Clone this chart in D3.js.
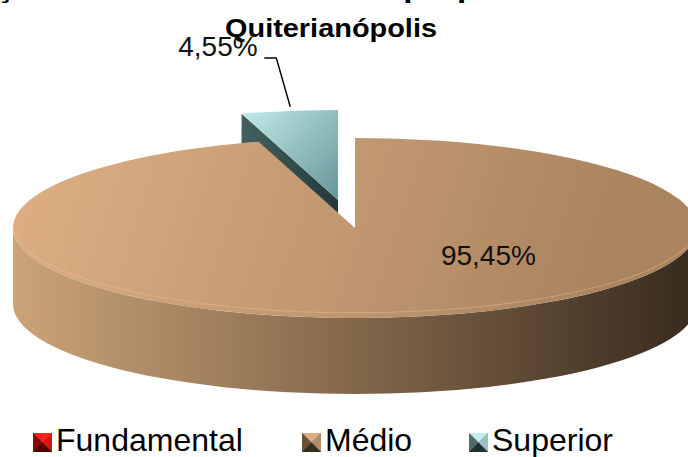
<!DOCTYPE html>
<html><head><meta charset="utf-8">
<script src="https://cdn.jsdelivr.net/npm/d3@7"></script>
<style>
html,body{margin:0;padding:0;background:#fff;overflow:hidden}
svg{display:block}
text{font-family:"Liberation Sans",Arial,sans-serif}
</style></head>
<body>
<svg id="c" width="688" height="457"></svg>
<script>
// ---- data ----
const categories = ["Fundamental", "Médio", "Superior"];
const values = [0, 95.45, 4.55];
const titleLines = ["Formações docentes do ensino proposto nas escolas de", "Quiterianópolis"];

// ---- layout / style ----
const W = 688, H = 457;
const cx = 355, cy = 228, rx = 342, ry = 90, depth = 76;
const explode = [{dx:0,dy:0},{dx:0,dy:0},{dx:-17,dy:-28}];
const topColors = [["#ff2020","#7a0000"],["#dcad83","#a9845f"],["#c4ecec","#5a8a8c"]];
const wallColors = [["#900000","#500000"],["#cba478","#372a1e"],["#42605f","#203234"]];

const svg = d3.select("#c");
const defs = svg.append("defs");

const pie = d3.pie().sort(null).value(d => d).startAngle(0).endAngle(2*Math.PI);
const arcs = pie(values);

function P(a, off, z) {
  return [cx + off.dx + rx*Math.sin(a), cy + off.dy - ry*Math.cos(a) + (z||0)];
}

// gradients
categories.forEach((c, i) => {
  const g = defs.append("linearGradient").attr("id","top"+i)
    .attr("gradientUnits","userSpaceOnUse");
  if (i === 2) {
    g.attr("x1",cx-110).attr("y1",cy-125).attr("x2",cx).attr("y2",cy-20);
  } else {
    g.attr("x1",cx-rx*0.9).attr("y1",cy-ry).attr("x2",cx+rx*0.7).attr("y2",cy+ry);
  }
  g.append("stop").attr("offset","0%").attr("stop-color",topColors[i][0]);
  g.append("stop").attr("offset","100%").attr("stop-color",topColors[i][1]);
  const w = defs.append("linearGradient").attr("id","wall"+i)
    .attr("gradientUnits","userSpaceOnUse");
  if (i === 2) {
    w.attr("x1",cx-110).attr("y1",0).attr("x2",cx).attr("y2",0);
  } else {
    w.attr("x1",cx-rx).attr("y1",0).attr("x2",cx+rx).attr("y2",0);
  }
  w.append("stop").attr("offset","0%").attr("stop-color",wallColors[i][0]);
  if (i === 1) w.append("stop").attr("offset","45%").attr("stop-color","#8a6d4f");
  w.append("stop").attr("offset","100%").attr("stop-color",wallColors[i][1]);
});

// title
svg.append("text").attr("x",344).attr("y",-2).attr("text-anchor","middle")
  .attr("font-weight","bold").attr("font-size",26)
  .attr("textLength",900).attr("lengthAdjust","spacingAndGlyphs")
  .text(titleLines[0]);
svg.append("text").attr("x",331).attr("y",37).attr("text-anchor","middle")
  .attr("font-weight","bold").attr("font-size",26)
  .attr("textLength",212).attr("lengthAdjust","spacingAndGlyphs")
  .text(titleLines[1]);

const g = svg.append("g");

// draw back slices first (Superior), then Médio
const order = [2, 0, 1];
order.forEach(i => {
  const d = arcs[i];
  if (d.endAngle - d.startAngle <= 0) return;
  const off = explode[i];
  const a0 = d.startAngle, a1 = d.endAngle;
  const C = [cx+off.dx, cy+off.dy];
  if (Math.cos(a0) > 0 && Math.sin(a0) < 0 && a1 - a0 < Math.PI) {
    const p = P(a0, off);
    g.append("path")
      .attr("d", `M${C[0]},${C[1]}L${p[0]},${p[1]}L${p[0]},${p[1]+depth}L${C[0]},${C[1]+depth}Z`)
      .attr("fill", `url(#wall${i})`);
  }
  const s = Math.max(a0, Math.PI/2), e = Math.min(a1, 3*Math.PI/2);
  if (e > s) {
    const ps = P(s, off), pe = P(e, off);
    g.append("path")
      .attr("d", `M${ps[0]},${ps[1]}A${rx},${ry} 0 0 1 ${pe[0]},${pe[1]}` +
                 `L${pe[0]},${pe[1]+depth}A${rx},${ry} 0 0 0 ${ps[0]},${ps[1]+depth}Z`)
      .attr("fill", `url(#wall${i})`);
  }
  const p0 = P(a0, off), p1 = P(a1, off);
  const large = (a1 - a0) > Math.PI ? 1 : 0;
  g.append("path")
    .attr("d", `M${C[0]},${C[1]}L${p0[0]},${p0[1]}A${rx},${ry} 0 ${large} 1 ${p1[0]},${p1[1]}Z`)
    .attr("fill", `url(#top${i})`);
  if (e > s) {
    const ps = P(s, off, -3), pe = P(e, off, -3);
    g.append("path")
      .attr("d", `M${ps[0]},${ps[1]}A${rx-3},${ry-3} 0 0 1 ${pe[0]},${pe[1]}`)
      .attr("fill","none").attr("stroke","#f3cc9e").attr("stroke-width",1.2)
      .attr("stroke-opacity",0.35);
  }
});

// labels
const fmt = v => v.toFixed(2).replace(".", ",") + "%";
(function(){
  const i = 1;
  svg.append("text").attr("x", cx + 0.39*rx).attr("y", cy + 37)
    .attr("text-anchor","middle").attr("font-size",28).attr("fill","#111")
    .text(fmt(values[i]));
})();
(function(){
  const i = 2, d = arcs[i];
  const mid = (d.startAngle + d.endAngle)/2;
  const m = P(mid, explode[i]);
  const tx = m[0] - 111, ty = m[1] - 55;
  svg.append("text").attr("x", tx).attr("y", ty)
    .attr("font-size",28).attr("fill","#111").text(fmt(values[i]));
  svg.append("path")
    .attr("d", `M${m[0]-25},${m[1]-53}L${m[0]-13},${m[1]-53}L${m[0]+1},${m[1]-4}`)
    .attr("fill","none").attr("stroke","#000").attr("stroke-width",1.5);
})();

// legend
const legX = [33, 302, 469];
const leg = svg.append("g");
categories.forEach((c, i) => {
  const x = legX[i], y = 433, s = 19;
  const gi = leg.append("g");
  const light = topColors[i][0], dark = wallColors[i][1];
  const mid = d3.interpolateRgb(light, dark)(0.45);
  gi.append("rect").attr("x",x).attr("y",y).attr("width",s).attr("height",s).attr("fill",mid);
  gi.append("path").attr("d",`M${x},${y}L${x+s},${y}L${x+s/2},${y+s/2}Z`).attr("fill",light);
  gi.append("path").attr("d",`M${x+s},${y}L${x+s},${y+s}L${x+s/2},${y+s/2}Z`).attr("fill",d3.interpolateRgb(light, dark)(0.25));
  gi.append("path").attr("d",`M${x},${y}L${x},${y+s}L${x+s/2},${y+s/2}Z`).attr("fill",d3.interpolateRgb(light, dark)(0.7));
  gi.append("path").attr("d",`M${x},${y+s}L${x+s},${y+s}L${x+s/2},${y+s/2}Z`).attr("fill",dark);
  gi.append("text").attr("x", x + s + 4).attr("y", 451)
    .attr("font-size",32).attr("fill","#000").text(c);
});
</script>
</body></html>
